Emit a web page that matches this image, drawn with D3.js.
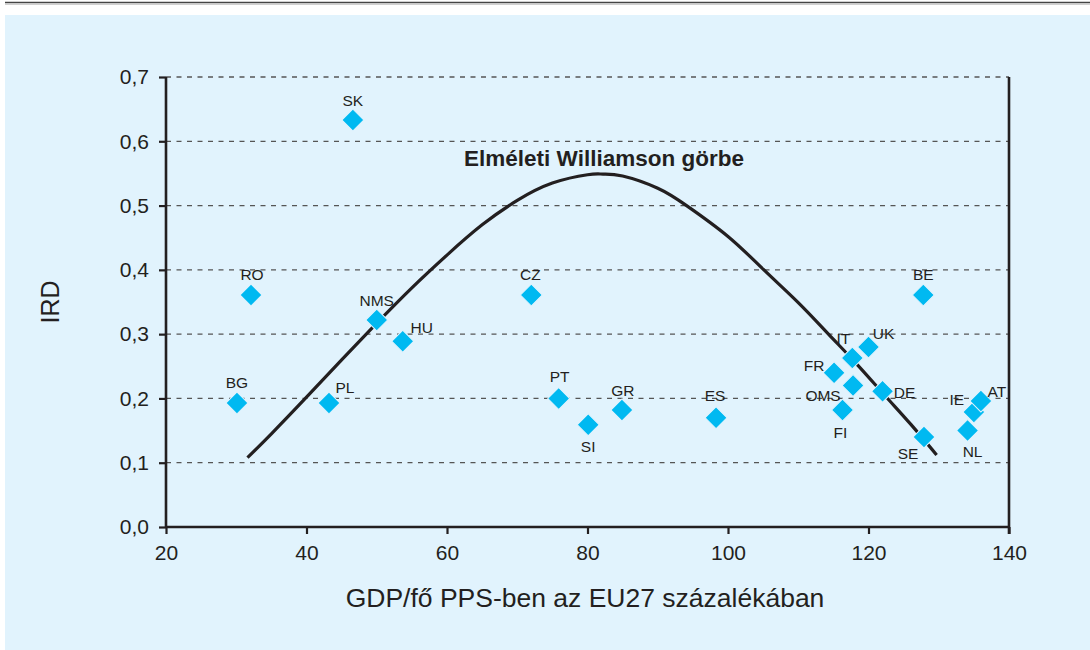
<!DOCTYPE html>
<html><head><meta charset="utf-8">
<script src="https://cdn.jsdelivr.net/npm/d3@7"></script>
<style>
body{margin:0;background:#fff;}
svg{display:block;font-family:"Liberation Sans",Arial,Helvetica,sans-serif;}
</style></head>
<body><svg id="c" width="1090" height="650"></svg>
<script>
// ---- data ----
const countries = ["SK","RO","BG","PL","NMS","HU","CZ","PT","SI","GR","ES","BE","IT","UK","FR","OMS","DE","FI","SE","NL","IE","AT"];
const gdpValues = [46.6,32.1,30.1,43.2,50.0,53.7,72.0,75.9,80.1,84.9,98.3,127.8,117.7,120.0,115.1,117.8,122.0,116.3,127.9,134.1,135.0,136.0];
const irdValues = [0.633,0.361,0.193,0.193,0.322,0.289,0.361,0.200,0.159,0.182,0.170,0.361,0.263,0.280,0.240,0.220,0.211,0.182,0.140,0.150,0.179,0.196];
const curveX = [31.6,35,40,45,50,55,60,65,70,75,80,82.2,85,90,94.1,100,105,110,114.3,118.2,122.3,126,129.7];
const curveY = [0.108,0.145,0.202,0.26,0.317,0.372,0.423,0.470,0.508,0.535,0.548,0.549,0.546,0.527,0.500,0.452,0.401,0.349,0.300,0.255,0.205,0.160,0.112];
const xTicks = [20,40,60,80,100,120,140];
const yTicks = [0,0.1,0.2,0.3,0.4,0.5,0.6,0.7];
const curveLabel = "Elméleti Williamson görbe";
const xTitle = "GDP/fő PPS-ben az EU27 százalékában";
const yTitle = "IRD";
// label placement (layout only)
const labelPos = {SK:[0,-20],RO:[1,-20],BG:[0,-20],PL:[16,-15],NMS:[0,-20],HU:[19,-14],CZ:[-1,-20],PT:[1,-22],SI:[0,22],GR:[1,-20],ES:[-1,-22],BE:[0,-20],
  IT:[-9,-19],UK:[15,-14],FR:[-20,-7],OMS:[-30,10],DE:[22,1],FI:[-2,22],SE:[-16,16],NL:[5,21],IE:[-17,-12],AT:[16,-10]};

// ---- drawing ----
const svg = d3.select("#c");
svg.append("rect").attr("x",5).attr("y",15).attr("width",1085).attr("height",635).attr("fill","#e1f3fd");
svg.append("line").attr("x1",5).attr("x2",1090).attr("y1",2.5).attr("y2",2.5).attr("stroke","#444").attr("stroke-width",1.6);
svg.append("line").attr("x1",5).attr("x2",1090).attr("y1",4.2).attr("y2",4.2).attr("stroke","#bbb").attr("stroke-width",1);

const x = d3.scaleLinear().domain([20,140]).range([166,1009]);
const y = d3.scaleLinear().domain([0,0.7]).range([527,77]);
const fmt = d => d3.format(".1f")(d).replace(".",",");

// gridlines
svg.append("g").selectAll("line").data(yTicks.filter(d=>d>0)).join("line")
  .attr("x1",x(20)).attr("x2",x(140)).attr("y1",d=>y(d)).attr("y2",d=>y(d))
  .attr("stroke","#555").attr("stroke-width",1.3).attr("stroke-dasharray","5,5.5");

// axes
const ax = svg.append("g").attr("transform",`translate(0,${y(0)})`)
  .call(d3.axisBottom(x).tickValues(xTicks).tickSize(7).tickPadding(11).tickFormat(d3.format("d")));
const ay = svg.append("g").attr("transform",`translate(${x(20)},0)`)
  .call(d3.axisLeft(y).tickValues(yTicks).tickSize(7).tickPadding(10).tickFormat(fmt));
[ax,ay].forEach(g=>{
  g.select(".domain").attr("stroke","#231f20").attr("stroke-width",2.6);
  g.selectAll(".tick line").attr("stroke","#231f20").attr("stroke-width",2.2);
  g.selectAll(".tick text").attr("fill","#231f20").attr("font-size",21).attr("font-family","Liberation Sans, Arial, sans-serif");
});
ax.select(".domain").attr("d",`M${x(20)},0H${x(140)}`);
ay.select(".domain").attr("d",`M0,${y(0)}V${y(0.7)}`);
svg.append("line").attr("x1",x(140)).attr("x2",x(140)).attr("y1",y(0.7)).attr("y2",y(0)+7)
  .attr("stroke","#231f20").attr("stroke-width",2.6);

// curve
const curvePts = curveX.map((d,i)=>[d,curveY[i]]);
svg.append("path").datum(curvePts)
  .attr("d",d3.line().x(d=>x(d[0])).y(d=>y(d[1])).curve(d3.curveNatural))
  .attr("fill","none").attr("stroke","#231f20").attr("stroke-width",3.2).attr("stroke-linecap","butt");
svg.append("text").attr("x",604).attr("y",166).attr("text-anchor","middle")
  .attr("font-size",22.5).attr("font-weight","bold").attr("fill","#231f20").text(curveLabel);

// points
const pts = countries.map((c,i)=>({c,gx:gdpValues[i],iy:irdValues[i]}));
svg.append("g").selectAll("path").data(pts).join("path")
  .attr("transform",d=>`translate(${x(d.gx)},${y(d.iy)}) rotate(45)`)
  .attr("d",d3.symbol(d3.symbolSquare,240))
  .attr("fill","#00b9f1").attr("stroke","#e1f3fd").attr("stroke-width",1);
svg.append("g").selectAll("text").data(pts).join("text")
  .attr("x",d=>x(d.gx)+labelPos[d.c][0]).attr("y",d=>y(d.iy)+labelPos[d.c][1]+5.5)
  .attr("text-anchor","middle").attr("font-size",15.5).attr("fill","#231f20").text(d=>d.c);

// titles
svg.append("text").attr("x",585).attr("y",607).attr("text-anchor","middle")
  .attr("font-size",26.5).attr("fill","#231f20").text(xTitle);
svg.append("text").attr("transform","translate(59,302) rotate(-90)").attr("text-anchor","middle")
  .attr("font-size",25).attr("fill","#231f20").text(yTitle);
</script></body></html>
